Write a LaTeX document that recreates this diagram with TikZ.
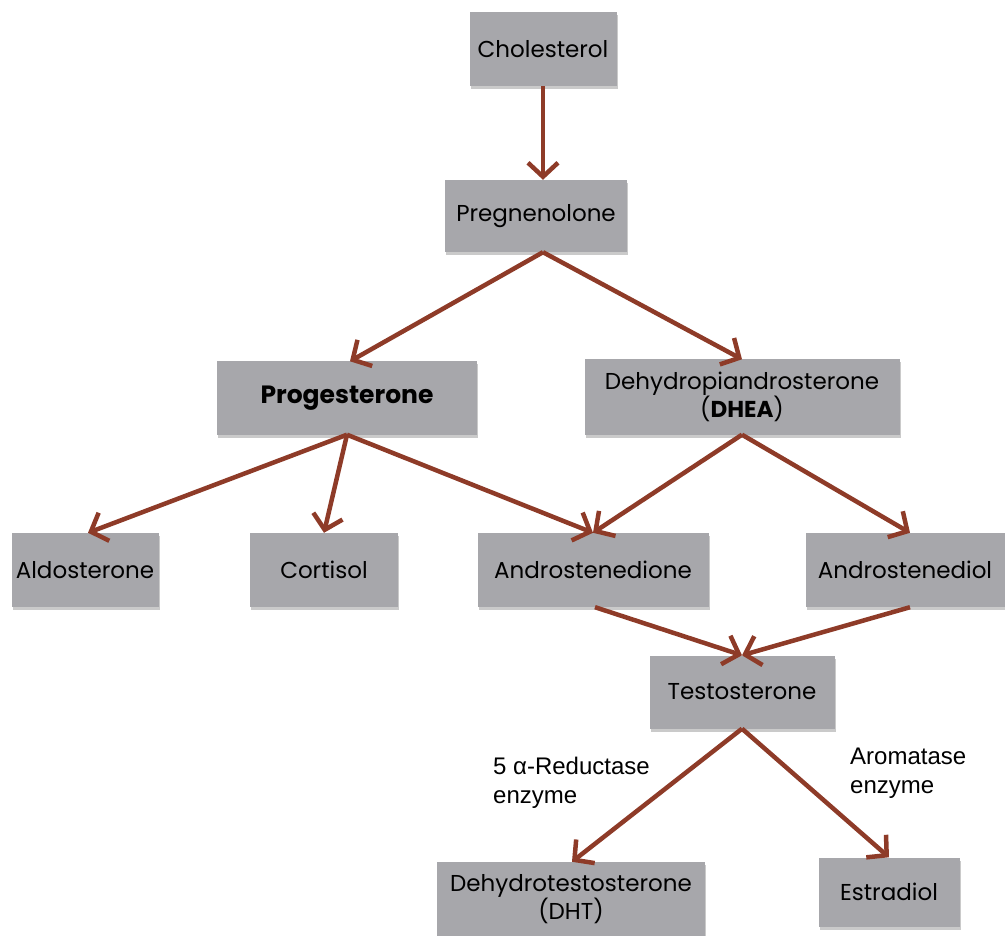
\documentclass[tikz,border=0pt]{standalone}
\usepackage{fontspec}
\setmainfont{Poppins}
\newfontfamily\labelfont{Liberation Sans}
\usetikzlibrary{arrows.meta,shadows}
\definecolor{boxgray}{HTML}{A7A7AB}
\definecolor{arrowbrown}{HTML}{8E3B28}
\tikzset{
  hbox/.style={fill=boxgray, draw=none, inner sep=0pt, align=center,
    font=\fontsize{23}{27}\selectfont,
    drop shadow={shadow xshift=1pt, shadow yshift=-3pt, opacity=0.35, fill=black!60}},
  conn/.style={draw=arrowbrown, line width=4.5pt,
    -{Straight Barb[length=14pt, width=30pt, line width=4.5pt]}},
  enz/.style={font=\labelfont\fontsize{24}{29}\selectfont, align=left, inner sep=0pt}
}
\begin{document}
\begin{tikzpicture}[x=1pt,y=-1pt]
\useasboundingbox (0,0) rectangle (1005,936);
\node[hbox, minimum width=147pt, minimum height=74pt] (chol) at (543,49) {Cholesterol};
\node[hbox, minimum width=182pt, minimum height=72pt] (preg) at (536,216) {Pregnenolone};
\node[hbox, minimum width=260pt, minimum height=73pt] (prog) at (347,398) {\fontsize{25}{29}\selectfont\textbf{Progesterone}};
\node[hbox, minimum width=315pt, minimum height=75pt] (dhea) at (742,397) {Dehydropiandrosterone\\(\textbf{DHEA})};
\node[hbox, minimum width=147pt, minimum height=74pt] (aldo) at (85,570) {Aldosterone};
\node[hbox, minimum width=148pt, minimum height=74pt] (cort) at (324,570) {Cortisol};
\node[hbox, minimum width=231pt, minimum height=74pt] (adione) at (593,570) {Androstenedione};
\node[hbox, minimum width=199pt, minimum height=74pt] (adiol) at (905,570) {Androstenediol};
\node[hbox, minimum width=185pt, minimum height=73pt] (testo) at (742,692) {Testosterone};
\node[hbox, minimum width=268pt, minimum height=74pt] (dht) at (571,899) {Dehydrotestosterone\\(DHT)};
\node[hbox, minimum width=141pt, minimum height=69pt] (estr) at (889,892) {Estradiol};

\node[enz, anchor=north west] (red) at (493,757) {5 α-Reductase\\enzyme};
\node[enz, anchor=north west] (aro) at (850,748) {Aromatase\\enzyme};

\draw[conn] (chol.south) -- (chol.south |- preg.north);
\draw[conn] ([xshift=7pt]preg.south) -- ([xshift=3pt]prog.north);
\draw[conn] ([xshift=7pt]preg.south) -- (dhea.north);
\draw[conn] (prog.south) -- ([xshift=3pt]aldo.north);
\draw[conn] (prog.south) -- (cort.north);
\draw[conn] (prog.south) -- (adione.north);
\draw[conn] (dhea.south) -- (adione.north);
\draw[conn] (dhea.south) -- ([xshift=5pt]adiol.north);
\draw[conn] ([xshift=2pt]adione.south) -- (testo.north);
\draw[conn] ([xshift=5pt]adiol.south) -- (testo.north);
\draw[conn] (testo.south) -- ([xshift=1pt]dht.north);
\draw[conn] (testo.south) -- (estr.north);
\end{tikzpicture}
\end{document}
